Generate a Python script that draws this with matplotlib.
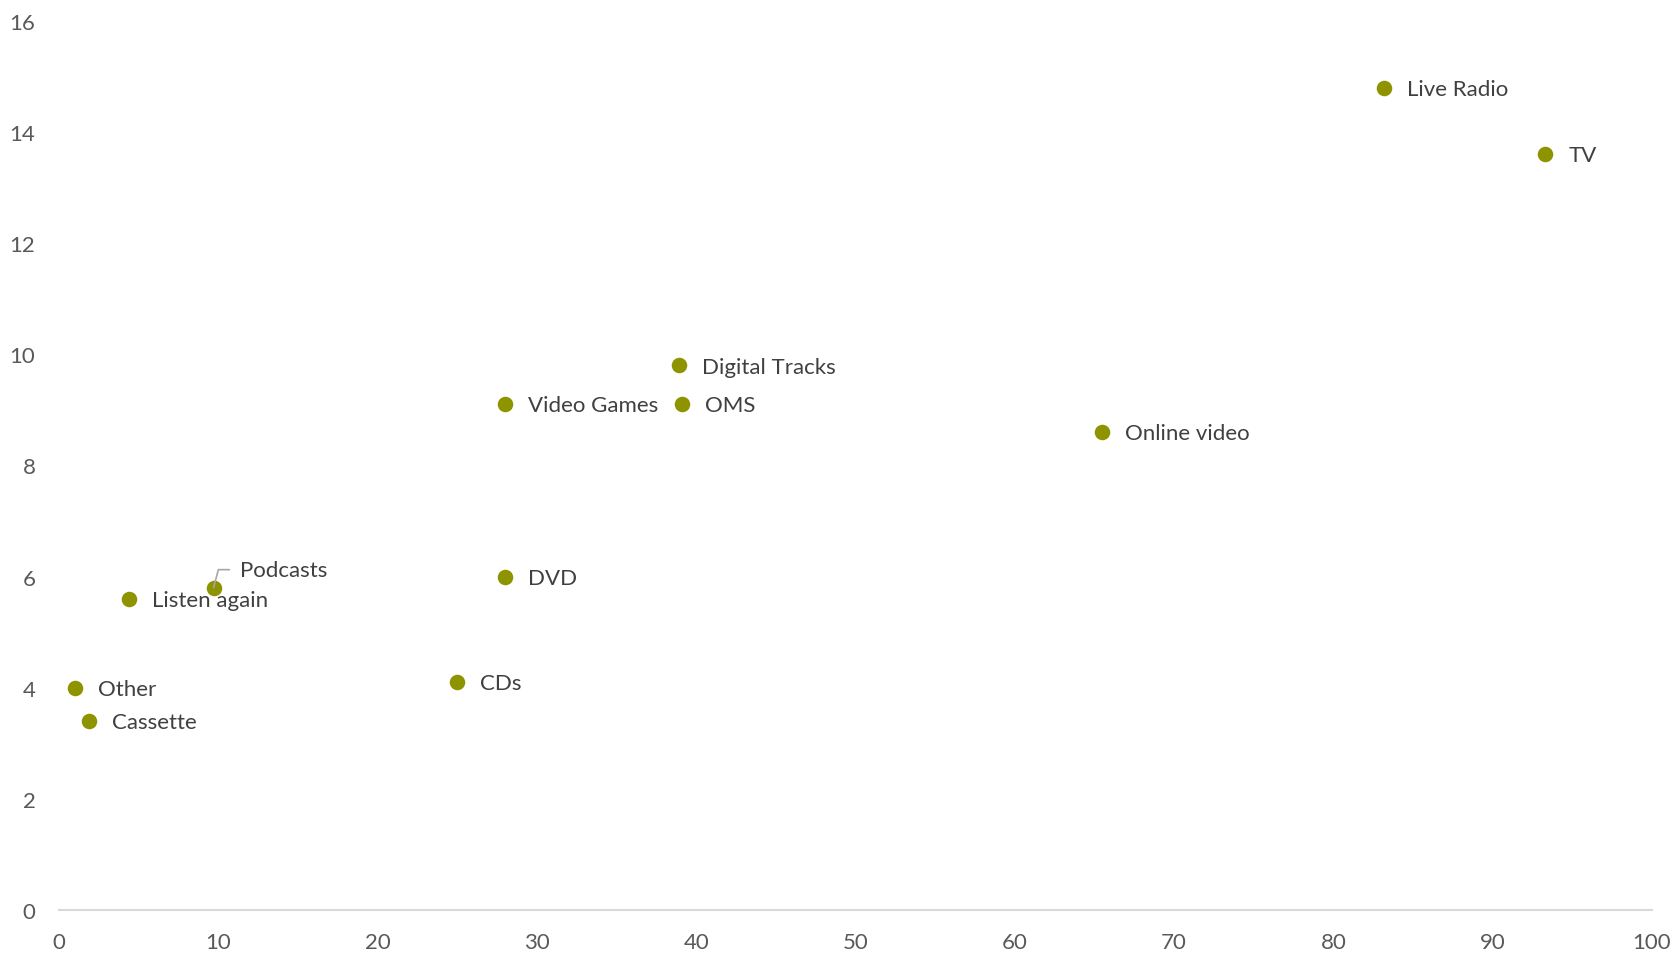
import matplotlib
matplotlib.use("Agg")
import matplotlib.pyplot as plt

labels = ["Live Radio", "TV", "Digital Tracks", "OMS", "Video Games", "Online video",
          "DVD", "Podcasts", "Listen again", "CDs", "Other", "Cassette"]
x_vals = [83.2, 93.3, 38.9, 39.1, 28.0, 65.5, 28.0, 9.7, 4.4, 25.0, 1.0, 1.9]
y_vals = [14.8, 13.6, 9.8, 9.1, 9.1, 8.6, 6.0, 5.8, 5.6, 4.1, 4.0, 3.4]
x_ticks = [0, 10, 20, 30, 40, 50, 60, 70, 80, 90, 100]
y_ticks = [0, 2, 4, 6, 8, 10, 12, 14, 16]

plt.rcParams['font.family'] = ['Lato', 'DejaVu Sans']

fig = plt.figure(figsize=(16.72, 9.54), dpi=100)
ax = fig.add_axes([0.0353, 0.0451, 0.988 - 0.0353, 0.977 - 0.0451])

color = '#8e9300'
ax.scatter(x_vals, y_vals, s=125, color=color, zorder=3, linewidths=0)

fs = 16
for lab, xv, yv in zip(labels, x_vals, y_vals):
    if lab == "Podcasts":
        ax.annotate(lab, xy=(xv, yv), xytext=(19.4, 13.0), textcoords='offset points',
                    ha='left', va='center', fontsize=fs, color='#404040',
                    arrowprops=dict(arrowstyle='-', color='#a6a6a6', lw=1.2,
                                    relpos=(0, 0.5), shrinkA=6, shrinkB=0,
                                    connectionstyle='angle,angleA=180,angleB=75,rad=0'),
                    zorder=4)
    else:
        ax.annotate(lab, xy=(xv, yv), xytext=(16.5, -0.8), textcoords='offset points',
                    ha='left', va='center', fontsize=fs, color='#404040', zorder=4)

ax.set_xlim(0, 100)
ax.set_ylim(0, 16)
ax.set_xticks(x_ticks)
ax.set_yticks(y_ticks)
ax.tick_params(axis='both', length=0, labelsize=fs, labelcolor='#595959')
ax.tick_params(axis='x', pad=16)
ax.tick_params(axis='y', pad=17)
for s in ['top', 'right', 'left']:
    ax.spines[s].set_visible(False)
ax.spines['bottom'].set_color('#d9d9d9')
ax.spines['bottom'].set_linewidth(1.5)
ax.set_facecolor('white')
fig.patch.set_facecolor('white')

fig.savefig('out.png', dpi=100)
